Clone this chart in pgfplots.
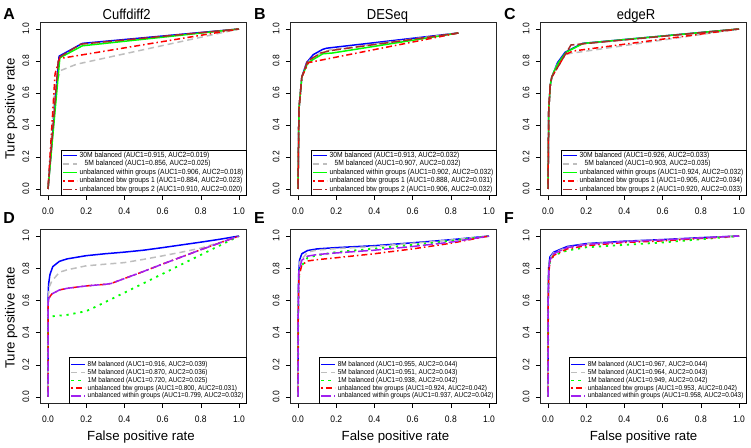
\documentclass[border=0pt]{standalone}
\usepackage{fontspec}
\setmainfont{Liberation Sans}
\newfontfamily\rtext{Liberation Sans}[FakeStretch=0.9]
\usepackage{pgfplots}
\pgfplotsset{compat=1.18}
\definecolor{rblue}{RGB}{0,0,255}
\definecolor{rgrey}{RGB}{190,190,190}
\definecolor{rgreen}{RGB}{0,255,0}
\definecolor{rred}{RGB}{255,0,0}
\definecolor{rbrown}{RGB}{165,42,42}
\definecolor{rpurple}{RGB}{160,32,240}
\pgfplotsset{
  rocax/.style={
    scale only axis, width=206.3bp,
    xmin=-0.04, xmax=1.04, ymin=-0.04, ymax=1.04,
    xtick={0,0.2,0.4,0.6,0.8,1}, ytick={0,0.2,0.4,0.6,0.8,1},
    tick pos=left, tick align=outside, major tick length=4.5bp,
    tick style={black, line width=0.5bp},
    axis line style={black!85, line width=0.6bp},
    /pgf/number format/assume math mode=true,
    tick label style={font=\rtext\fontsize{9.5}{9.5}\selectfont},
    xticklabel shift=4.5bp, yticklabel shift=3bp,
    xticklabel style={/pgf/number format/fixed, /pgf/number format/fixed zerofill, /pgf/number format/precision=1},
    yticklabel style={rotate=90, anchor=south, /pgf/number format/fixed, /pgf/number format/fixed zerofill, /pgf/number format/precision=1},
    legend cell align=left,
    legend style={at={(1,0)}, anchor=south east, draw=black, line width=0.5bp, fill=white,
      inner xsep=1bp, nodes={inner xsep=2bp, inner ysep=0.6bp}},
    legend image code/.code={\draw[##1, line width=1.6bp] (0bp,0bp) -- (13.5bp,0bp);},
    every axis plot/.append style={line width=1.5bp, line join=round},
  },
  toprow/.style={rocax, height=172.8bp, legend style={font=\rtext\fontsize{7.5}{7.5}\selectfont, inner ysep=1.7bp, row sep=0.35bp}},
  botrow/.style={rocax, height=173.8bp, legend style={font=\rtext\fontsize{7.13}{7.13}\selectfont, inner ysep=3.2bp, row sep=0bp}},
  sblue/.style={rblue, solid},
  sgrey/.style={rgrey, dash pattern=on 6bp off 4bp},
  sgreen/.style={rgreen, solid},
  sred/.style={rred, dash pattern=on 1.5bp off 3bp on 6bp off 3bp},
  sbrown/.style={rbrown, dash pattern=on 9bp off 3bp},
  sdot/.style={rgreen, line width=1.8bp, dash pattern=on 2.2bp off 4.8bp},
  spurple/.style={rpurple, dash pattern=on 10bp off 3bp},
}
\begin{document}
\begin{tikzpicture}
\path[use as bounding box] (0bp,0bp) rectangle (751bp,448bp);
% ---------------- A
\begin{axis}[toprow, at={(40.36bp,252.6bp)}, anchor=south west]
\addplot[sblue] coordinates {(0,0) (0.058,0.83) (0.18,0.91) (1,1)};
\addplot[sgrey] coordinates {(0,0) (0.035,0.62) (0.065,0.74) (0.15,0.78) (1,1)};
\addplot[sgreen] coordinates {(0,0) (0.062,0.82) (0.18,0.895) (1,1)};
\addplot[sred] coordinates {(0,0) (0.037,0.72) (0.06,0.815) (1,1)};
\addplot[sbrown] coordinates {(0,0) (0.055,0.82) (0.17,0.905) (1,1)};
\legend{30M balanced (AUC1=0.915{,} AUC2=0.019), \hspace{5bp}5M balanced (AUC1=0.856{,} AUC2=0.025), unbalanced within groups (AUC1=0.906{,} AUC2=0.018), unbalanced btw groups 1 (AUC1=0.884{,} AUC2=0.023), unbalanced btw groups 2 (AUC1=0.910{,} AUC2=0.020)}
\end{axis}
% ---------------- B
\begin{axis}[toprow, at={(290.36bp,252.6bp)}, anchor=south west]
\addplot[sblue] coordinates {(0,0) (0.005,0.5) (0.02,0.70) (0.045,0.79) (0.08,0.84) (0.13,0.873) (0.15,0.88) (0.84,0.975)};
\addplot[sgrey] coordinates {(0,0) (0.005,0.5) (0.02,0.70) (0.05,0.795) (0.12,0.852) (0.17,0.87) (0.84,0.975)};
\addplot[sgreen] coordinates {(0,0) (0.005,0.5) (0.02,0.70) (0.05,0.785) (0.08,0.81) (0.13,0.845) (0.18,0.85) (0.84,0.975)};
\addplot[sred] coordinates {(0,0) (0.005,0.5) (0.02,0.70) (0.055,0.79) (0.84,0.975)};
\addplot[sbrown] coordinates {(0,0) (0.005,0.5) (0.02,0.70) (0.05,0.80) (0.12,0.85) (0.17,0.865) (0.84,0.975)};
\legend{30M balanced (AUC1=0.913{,} AUC2=0.032), \hspace{5bp}5M balanced (AUC1=0.907{,} AUC2=0.032), unbalanced within groups (AUC1=0.902{,} AUC2=0.032), unbalanced btw groups 1 (AUC1=0.888{,} AUC2=0.031), unbalanced btw groups 2 (AUC1=0.906{,} AUC2=0.032)}
\end{axis}
% ---------------- C
\begin{axis}[toprow, at={(540.36bp,252.6bp)}, anchor=south west]
\addplot[sblue] coordinates {(0,0) (0.004,0.5) (0.012,0.65) (0.02,0.70) (0.03,0.73) (0.05,0.79) (0.09,0.855) (0.18,0.91) (1,1)};
\addplot[sgrey] coordinates {(0,0) (0.004,0.5) (0.012,0.65) (0.02,0.70) (0.03,0.73) (0.05,0.78) (0.09,0.84) (0.12,0.848) (1,1)};
\addplot[sgreen] coordinates {(0,0) (0.004,0.5) (0.012,0.65) (0.02,0.70) (0.03,0.73) (0.055,0.79) (0.095,0.855) (0.185,0.91) (1,1)};
\addplot[sred] coordinates {(0,0) (0.004,0.5) (0.012,0.65) (0.02,0.70) (0.03,0.72) (0.06,0.78) (0.09,0.84) (0.13,0.862) (1,1)};
\addplot[sbrown] coordinates {(0,0) (0.004,0.5) (0.012,0.65) (0.02,0.70) (0.03,0.72) (0.06,0.78) (0.09,0.84) (0.12,0.90) (1,1)};
\legend{30M balanced (AUC1=0.926{,} AUC2=0.033), \hspace{5bp}5M balanced (AUC1=0.903{,} AUC2=0.035), unbalanced within groups (AUC1=0.924{,} AUC2=0.032), unbalanced btw groups 1 (AUC1=0.905{,} AUC2=0.034), unbalanced btw groups 2 (AUC1=0.920{,} AUC2=0.033)}
\end{axis}
% ---------------- D
\begin{axis}[botrow, at={(40.36bp,44.6bp)}, anchor=south west]
\addplot[sblue] coordinates {(0,0) (0,0.6) (0.003,0.70) (0.01,0.76) (0.025,0.81) (0.06,0.843) (0.1,0.858) (0.2,0.878) (0.3,0.89) (0.4,0.90) (0.5,0.912) (0.6,0.928) (0.7,0.945) (0.8,0.962) (0.9,0.98) (1,1)};
\addplot[sgrey] coordinates {(0,0) (0,0.6) (0.005,0.68) (0.02,0.72) (0.06,0.775) (0.1,0.79) (0.2,0.815) (0.3,0.825) (0.4,0.835) (0.5,0.855) (0.6,0.877) (0.7,0.90) (0.8,0.925) (0.9,0.96) (1,1)};
\addplot[sdot] coordinates {(0,0) (0,0.49) (0.01,0.50) (0.1,0.51) (0.2,0.533) (0.24,0.555) (0.4,0.648) (0.6,0.765) (0.8,0.883) (1,1)};
\addplot[sred] coordinates {(0,0) (0,0.58) (0.005,0.615) (0.02,0.64) (0.06,0.665) (0.1,0.675) (0.2,0.69) (0.3,0.70) (0.33,0.705) (0.5,0.78) (0.6,0.826) (0.8,0.915) (1,1)};
\addplot[spurple] coordinates {(0,0) (0,0.58) (0.005,0.615) (0.02,0.64) (0.06,0.665) (0.1,0.675) (0.2,0.69) (0.3,0.70) (0.33,0.705) (0.5,0.78) (0.6,0.826) (0.8,0.915) (1,1)};
\legend{8M balanced (AUC1=0.916{,} AUC2=0.039), 5M balanced (AUC1=0.870{,} AUC2=0.036), 1M balanced (AUC1=0.720{,} AUC2=0.025), unbalanced btw groups (AUC1=0.800{,} AUC2=0.031), unbalanced within groups (AUC1=0.799{,} AUC2=0.032)}
\end{axis}
% ---------------- E
\begin{axis}[botrow, at={(290.36bp,44.6bp)}, anchor=south west]
\addplot[sblue] coordinates {(0,0) (0.001,0.5) (0.003,0.75) (0.008,0.85) (0.02,0.89) (0.05,0.91) (0.1,0.92) (0.2,0.928) (0.4,0.94) (0.6,0.958) (0.8,0.977) (1,1)};
\addplot[sgrey] coordinates {(0,0) (0.001,0.5) (0.003,0.74) (0.01,0.84) (0.05,0.90) (0.1,0.913) (0.2,0.922) (0.4,0.935) (0.6,0.955) (0.8,0.975) (1,1)};
\addplot[sdot] coordinates {(0,0) (0.001,0.5) (0.004,0.72) (0.01,0.80) (0.05,0.865) (0.1,0.88) (0.2,0.90) (0.4,0.922) (0.6,0.945) (0.8,0.97) (1,1)};
\addplot[sred] coordinates {(0,0) (0.001,0.5) (0.005,0.75) (0.02,0.82) (0.05,0.845) (0.1,0.853) (0.2,0.865) (0.4,0.89) (0.6,0.92) (0.8,0.955) (1,1)};
\addplot[spurple] coordinates {(0,0) (0.001,0.5) (0.005,0.78) (0.02,0.85) (0.05,0.875) (0.1,0.885) (0.2,0.895) (0.4,0.912) (0.6,0.935) (0.8,0.962) (1,1)};
\legend{8M balanced (AUC1=0.955{,} AUC2=0.044), 5M balanced (AUC1=0.951{,} AUC2=0.043), 1M balanced (AUC1=0.938{,} AUC2=0.042), unbalanced btw groups (AUC1=0.924{,} AUC2=0.042), unbalanced within groups (AUC1=0.937{,} AUC2=0.042)}
\end{axis}
% ---------------- F
\begin{axis}[botrow, at={(540.36bp,44.6bp)}, anchor=south west]
\addplot[sblue] coordinates {(0,0) (0.001,0.6) (0.003,0.80) (0.01,0.87) (0.03,0.90) (0.1,0.935) (0.2,0.953) (0.4,0.968) (0.6,0.978) (0.8,0.99) (1,1)};
\addplot[sgrey] coordinates {(0,0) (0.001,0.6) (0.003,0.79) (0.01,0.86) (0.03,0.895) (0.1,0.93) (0.2,0.95) (0.4,0.966) (0.6,0.977) (0.8,0.988) (1,1)};
\addplot[sdot] coordinates {(0,0) (0.001,0.6) (0.005,0.80) (0.01,0.84) (0.03,0.88) (0.1,0.91) (0.2,0.93) (0.4,0.945) (0.6,0.96) (0.8,0.98) (1,1)};
\addplot[sred] coordinates {(0,0) (0.001,0.6) (0.005,0.78) (0.01,0.84) (0.03,0.88) (0.1,0.92) (0.2,0.94) (0.4,0.96) (0.6,0.97) (0.8,0.985) (1,1)};
\addplot[spurple] coordinates {(0,0) (0.001,0.6) (0.005,0.80) (0.01,0.85) (0.03,0.89) (0.1,0.928) (0.2,0.948) (0.4,0.965) (0.6,0.976) (0.8,0.988) (1,1)};
\legend{8M balanced (AUC1=0.967{,} AUC2=0.044), 5M balanced (AUC1=0.964{,} AUC2=0.043), 1M balanced (AUC1=0.949{,} AUC2=0.042), unbalanced btw groups (AUC1=0.953{,} AUC2=0.042), unbalanced within groups (AUC1=0.958{,} AUC2=0.043)}
\end{axis}
% ---------------- text
\begin{scope}[every node/.style={inner sep=0pt}]
\node[font=\rtext\fontsize{14.5}{14.5}\selectfont, anchor=base] at (126.7bp,428.7bp) {Cuffdiff2};
\node[font=\rtext\fontsize{14.5}{14.5}\selectfont, anchor=base] at (387.5bp,428.7bp) {DESeq};
\node[font=\rtext\fontsize{14.5}{14.5}\selectfont, anchor=base] at (636bp,428.7bp) {edgeR};
\node[font=\bfseries\fontsize{16}{16}\selectfont, anchor=base west] at (3.3bp,428bp) {A};
\node[font=\bfseries\fontsize{16}{16}\selectfont, anchor=base west] at (254bp,428bp) {B};
\node[font=\bfseries\fontsize{16}{16}\selectfont, anchor=base west] at (504bp,428bp) {C};
\node[font=\bfseries\fontsize{16}{16}\selectfont, anchor=base west] at (3.3bp,224.5bp) {D};
\node[font=\bfseries\fontsize{16}{16}\selectfont, anchor=base west] at (254bp,224.5bp) {E};
\node[font=\bfseries\fontsize{16}{16}\selectfont, anchor=base west] at (504bp,224.5bp) {F};
\node[font=\fontsize{13.3}{13.3}\selectfont, anchor=base, rotate=90] at (14.5bp,339bp) {Ture positive rate};
\node[font=\fontsize{13.3}{13.3}\selectfont, anchor=base, rotate=90] at (14.5bp,130bp) {Ture positive rate};
\node[font=\fontsize{13.3}{13.3}\selectfont, anchor=base] at (141bp,7.3bp) {False positive rate};
\node[font=\fontsize{13.3}{13.3}\selectfont, anchor=base] at (395.5bp,7.3bp) {False positive rate};
\node[font=\fontsize{13.3}{13.3}\selectfont, anchor=base] at (643.6bp,7.3bp) {False positive rate};
\end{scope}
\end{tikzpicture}
\end{document}
